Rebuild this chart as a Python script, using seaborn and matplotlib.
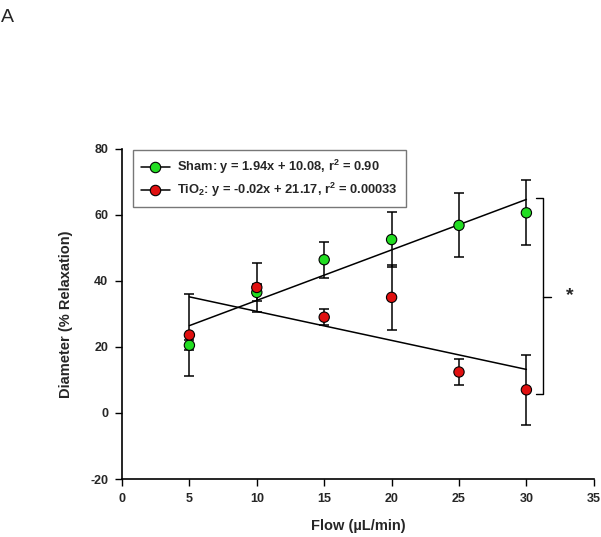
import numpy as np
import pandas as pd
import matplotlib
matplotlib.use("Agg")
import matplotlib.pyplot as plt
from matplotlib.lines import Line2D
import seaborn as sns

# valores
flow = [5, 10, 15, 20, 25, 30]
sham_mean = [20.5, 36.5, 46.4, 52.5, 56.8, 60.6]
sham_err = [1.5, 2.5, 5.4, 8.2, 9.7, 9.8]
tio2_mean = [23.6, 38.0, 29.0, 35.0, 12.4, 7.0]
tio2_err = [12.5, 7.5, 2.5, 9.8, 3.8, 10.6]
labels = ["Sham: y = 1.94x + 10.08, r$^\\mathbf{2}$ = 0.90",
          "TiO$_\\mathbf{2}$: y = -0.02x + 21.17, r$^\\mathbf{2}$ = 0.00033"]
green = "#22dd22"
red = "#e01010"

sns.set_style("ticks")
plt.rcParams['font.family'] = ['Liberation Sans', 'DejaVu Sans']
plt.rcParams['mathtext.fontset'] = 'custom'
plt.rcParams['mathtext.rm'] = 'Liberation Sans'
plt.rcParams['mathtext.bf'] = 'Liberation Sans:bold'
plt.rcParams['axes.unicode_minus'] = False

df = pd.DataFrame({"flow": flow * 2,
                   "mean": sham_mean + tio2_mean,
                   "err": sham_err + tio2_err,
                   "grupo": ["Sham"] * 6 + ["TiO2"] * 6})

fig = plt.figure(figsize=(6.01, 5.37), dpi=100)
ax = fig.add_axes([0.203, 0.108, 0.785, 0.615])

# linhas de regressão
for g in ["Sham", "TiO2"]:
    sub = df[df["grupo"] == g]
    sns.regplot(data=sub, x="flow", y="mean", ax=ax, scatter=False, ci=None,
                truncate=True, line_kws={"color": "black", "lw": 1.1})

# barras de erro
for g in ["Sham", "TiO2"]:
    sub = df[df["grupo"] == g]
    ax.errorbar(sub["flow"], sub["mean"], yerr=sub["err"], fmt="none",
                ecolor="black", elinewidth=1.1, capsize=3.5, capthick=1.1, zorder=3)

sns.scatterplot(data=df, x="flow", y="mean", hue="grupo",
                palette={"Sham": green, "TiO2": red}, s=55,
                edgecolor="black", linewidth=0.8, ax=ax, zorder=4, legend=False)

ax.set_xlim(0, 35)
ax.set_ylim(-20, 80)
ax.set_xticks(range(0, 36, 5))
ax.set_yticks(range(-20, 81, 20))
for lab in ax.get_xticklabels() + ax.get_yticklabels():
    lab.set_fontweight("bold")
    lab.set_fontsize(9)
ax.tick_params(length=5, width=1, color="black", pad=5)
sns.despine(ax=ax)
for s in ["left", "bottom"]:
    ax.spines[s].set_linewidth(1.2)
    ax.spines[s].set_color("black")

ax.set_xlabel("Flow (µL/min)", fontsize=10.5, fontweight="bold", labelpad=10)
ax.set_ylabel("Diameter (% Relaxation)", fontsize=10.5, fontweight="bold", labelpad=12)

# colchete de significância
ax.plot([30.75, 31.2, 31.2, 30.75], [65, 65, 5.6, 5.6], color="black", lw=1, clip_on=False)
ax.plot([31.2, 31.8], [35, 35], color="black", lw=1, clip_on=False)
ax.text(33.2, 35.5, "*", fontsize=14, fontweight="bold", ha="center", va="center")

handles = [Line2D([], [], color="black", lw=1.1, marker="o", ms=7.5,
                  markerfacecolor=c, markeredgecolor="black", markeredgewidth=0.8)
           for c in [green, red]]
leg = ax.legend(handles, labels, loc="upper left", bbox_to_anchor=(0.023, 0.997),
                borderaxespad=0, prop={"weight": "bold", "size": 9.3}, frameon=True,
                fancybox=False, handlelength=2.2, borderpad=0.65, labelspacing=0.35,
                handletextpad=0.6)
leg.get_frame().set_edgecolor("#555555")
leg.get_frame().set_linewidth(1)

fig.text(0.002, 0.959, "A", fontsize=14, va="baseline")

fig.savefig("out.png", dpi=100)
